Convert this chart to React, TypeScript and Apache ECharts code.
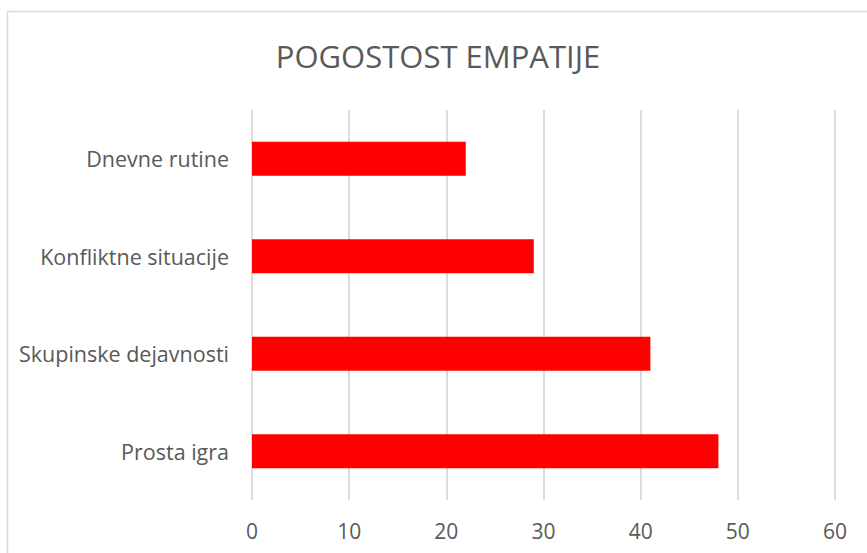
import React, { useEffect, useRef } from "react";
import * as echarts from "echarts";

const categories = ["Dnevne rutine", "Konfliktne situacije", "Skupinske dejavnosti", "Prosta igra"];
const values = [22, 29, 41, 48];
const titleText = "POGOSTOST EMPATIJE";

export default function App() {
  const ref = useRef<HTMLDivElement>(null);
  useEffect(() => {
    if (!ref.current) return;
    const chart = echarts.init(ref.current, null, { renderer: "svg" });
    const font = "'Open Sans', sans-serif";
    chart.setOption({
      animation: false,
      backgroundColor: "#ffffff",
      title: {
        text: titleText,
        left: 433,
        top: 35,
        textAlign: "center",
        textStyle: { fontFamily: font, fontSize: 31, fontWeight: "normal", color: "#595959" },
      },
      grid: { left: 252, right: 32, top: 110, bottom: 53, containLabel: false },
      xAxis: {
        type: "value",
        min: 0,
        max: 60,
        interval: 10,
        axisLine: { show: false },
        axisTick: { show: false },
        splitLine: { show: true, lineStyle: { color: "#dcdcdc", width: 2 } },
        axisLabel: { fontFamily: font, fontSize: 21, color: "#595959", margin: 20 },
      },
      yAxis: {
        type: "category",
        data: categories,
        inverse: true,
        axisLine: { show: false },
        axisTick: { show: false },
        splitLine: { show: false },
        axisLabel: { fontFamily: font, fontSize: 21.5, color: "#595959", margin: 23 },
      },
      series: [
        {
          type: "bar",
          data: values,
          barWidth: 34,
          itemStyle: { color: "#ff0000" },
        },
      ],
      graphic: [
        { type: "line", shape: { x1: 7.5, y1: 11.5, x2: 7.5, y2: 560 }, style: { stroke: "#d9d9d9", lineWidth: 1.5 } },
        { type: "line", shape: { x1: 7, y1: 11.5, x2: 870, y2: 11.5 }, style: { stroke: "#d9d9d9", lineWidth: 1.5 } },
      ],
    });
    return () => chart.dispose();
  }, []);
  return (
    <div
      ref={ref}
      style={{ position: "fixed", left: 0, top: 0, width: 867, height: 553 }}
    />
  );
}
